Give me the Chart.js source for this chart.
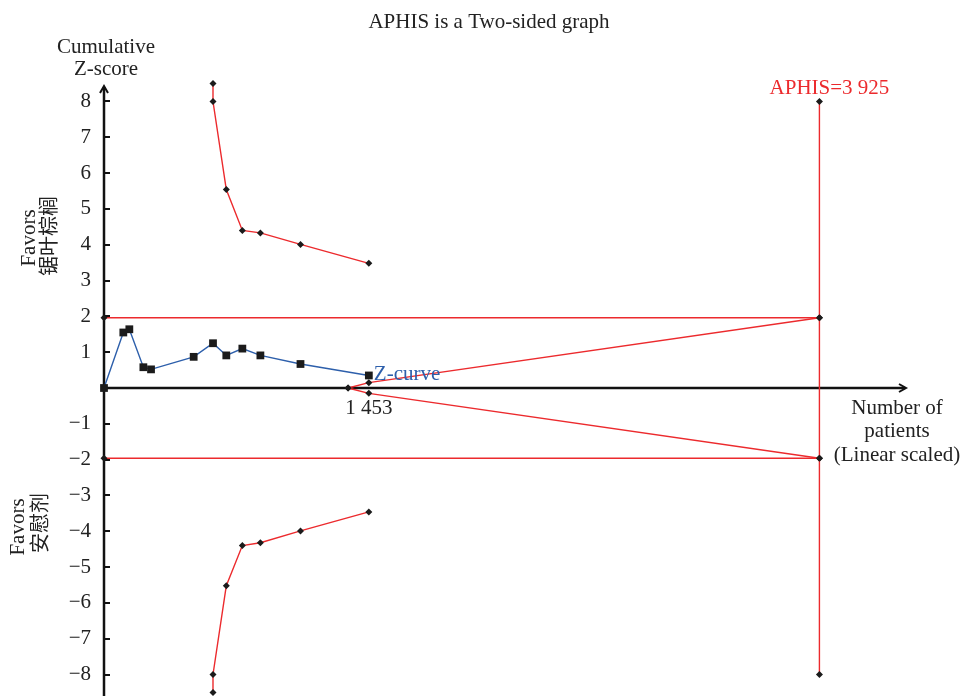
<!DOCTYPE html>
<html>
<head>
<meta charset="utf-8">
<script src="https://cdn.jsdelivr.net/npm/chart.js@4.4.1/dist/chart.umd.min.js"></script>
<style>
  html, body { margin: 0; padding: 0; background: #ffffff; }
  #wrap { width: 965px; height: 696px; position: relative; }
</style>
</head>
<body>
<div id="wrap"><canvas id="c"></canvas></div>
<script>
// ---- Data ----
const zCurvePatients = [0, 106, 139, 216, 258, 492, 598, 671, 759, 858, 1078, 1453];
const zCurveScores   = [0, 1.55, 1.64, 0.58, 0.52, 0.87, 1.25, 0.91, 1.10, 0.91, 0.67, 0.35];

const boundaryPatients = [598, 598, 671, 759, 858, 1078, 1453];
const upperBoundary    = [8.5, 8.0, 5.54, 4.40, 4.33, 4.01, 3.48];
const lowerBoundary    = [-8.5, -8.0, -5.52, -4.40, -4.32, -3.99, -3.46];

const futilityPatients = [1339, 1453, 3925];
const futilityUpper    = [0, 0.15, 1.96];
const futilityLower    = [0, -0.15, -1.96];

const conventionalPatients = [0, 3925];
const conventionalUpper    = [1.96, 1.96];
const conventionalLower    = [-1.96, -1.96];

const aphisPatients = [3925, 3925];
const aphisZ        = [8, -8];

const yTickValues = [-8, -7, -6, -5, -4, -3, -2, -1, 1, 2, 3, 4, 5, 6, 7, 8];
const xTickValues = [1453];
const xTickLabels = ['1 453'];

const titleText = 'APHIS is a Two-sided graph';
const yTitle = ['Cumulative', 'Z-score'];
const xTitle = ['Number of', 'patients', '(Linear scaled)'];
const aphisLabel = 'APHIS=3 925';
const zCurveLabel = 'Z-curve';
const favorUpper = ['Favors', '锯叶棕榈'];
const favorLower = ['Favors', '安慰剂'];

// ---- Styles ----
const RED = '#ec2a2d';
const BLUE = '#2d5fab';
const MARK = '#1b1b1b';
const SERIF = '"Liberation Serif", "DejaVu Serif", serif';
const CJK = '"Noto Sans CJK SC", "Noto Sans CJK JP", sans-serif';

const zip = (xs, ys) => xs.map((x, i) => ({ x: x, y: ys[i] }));

function redSet(xs, ys) {
  return {
    data: zip(xs, ys),
    showLine: true,
    borderColor: RED,
    borderWidth: 1.4,
    pointStyle: 'rectRot',
    pointRadius: 3.5,
    pointBackgroundColor: MARK,
    pointBorderColor: MARK,
    pointBorderWidth: 0,
    clip: false,
    tension: 0
  };
}

const overlay = {
  id: 'overlay',
  beforeDatasetsDraw(chart) {
    const ctx = chart.ctx;
    const xs = chart.scales.x, ys = chart.scales.y;
    const x0 = xs.getPixelForValue(0);
    const y0 = ys.getPixelForValue(0);
    ctx.save();
    ctx.strokeStyle = '#111';
    ctx.fillStyle = '#111';
    ctx.lineWidth = 2.5;
    // y axis
    ctx.beginPath();
    ctx.moveTo(x0, 696);
    ctx.lineTo(x0, 87);
    ctx.stroke();
    ctx.lineWidth = 2;
    ctx.beginPath();
    ctx.moveTo(x0 - 4, 93);
    ctx.lineTo(x0, 86);
    ctx.lineTo(x0 + 4, 93);
    ctx.stroke();
    // x axis
    ctx.lineWidth = 2.5;
    ctx.beginPath();
    ctx.moveTo(x0, y0);
    ctx.lineTo(905, y0);
    ctx.stroke();
    ctx.lineWidth = 2;
    ctx.beginPath();
    ctx.moveTo(899, y0 - 4);
    ctx.lineTo(906, y0);
    ctx.lineTo(899, y0 + 4);
    ctx.stroke();
    // y tick marks (inside)
    ctx.lineWidth = 2;
    yTickValues.forEach(v => {
      const py = Math.round(ys.getPixelForValue(v));
      ctx.beginPath();
      ctx.moveTo(x0, py);
      ctx.lineTo(x0 + 6, py);
      ctx.stroke();
    });
    ctx.restore();
  },
  afterDraw(chart) {
    const ctx = chart.ctx;
    const xs = chart.scales.x, ys = chart.scales.y;
    const y0 = ys.getPixelForValue(0);
    ctx.save();
    ctx.font = '21px ' + SERIF;
    ctx.fillStyle = '#222';
    ctx.textAlign = 'center';
    ctx.textBaseline = 'middle';
    ctx.fillText(titleText, 489, 22);
    ctx.fillText(yTitle[0], 106, 47);
    ctx.fillText(yTitle[1], 106, 69);
    xTitle.forEach((t, i) => ctx.fillText(t, 897, 408 + i * 23.5));
    xTickValues.forEach((v, i) => ctx.fillText(xTickLabels[i], xs.getPixelForValue(v), y0 + 20));
    ctx.fillStyle = RED;
    ctx.fillText(aphisLabel, xs.getPixelForValue(3925) + 10, 88);
    ctx.fillStyle = BLUE;
    ctx.textAlign = 'left';
    const last = zCurvePatients.length - 1;
    ctx.fillText(zCurveLabel, xs.getPixelForValue(zCurvePatients[last]) + 5, ys.getPixelForValue(zCurveScores[last]) - 1);

    // rotated favour labels
    ctx.fillStyle = '#222';
    ctx.textAlign = 'center';
    function rot(text, font, cx, cy) {
      ctx.save();
      ctx.translate(cx, cy);
      ctx.rotate(-Math.PI / 2);
      ctx.font = font;
      ctx.fillText(text, 0, 0);
      ctx.restore();
    }
    rot(favorUpper[0], '21px ' + SERIF, 29, 238);
    rot(favorUpper[1], '20px ' + CJK, 48, 236);
    rot(favorLower[0], '21px ' + SERIF, 18, 527);
    rot(favorLower[1], '20px ' + CJK, 39, 523);
    ctx.restore();
  }
};

new Chart(document.getElementById('c'), {
  type: 'scatter',
  data: {
    datasets: [
      redSet(conventionalPatients, conventionalUpper),
      redSet(conventionalPatients, conventionalLower),
      redSet(aphisPatients, aphisZ),
      redSet(futilityPatients, futilityUpper),
      redSet(futilityPatients, futilityLower),
      redSet(boundaryPatients, upperBoundary),
      redSet(boundaryPatients, lowerBoundary),
      {
        data: zip(zCurvePatients, zCurveScores),
        showLine: true,
        borderColor: BLUE,
        borderWidth: 1.4,
        pointStyle: 'rect',
        pointRadius: 5.5,
        pointBackgroundColor: MARK,
        pointBorderColor: MARK,
        pointBorderWidth: 0,
        clip: false,
        tension: 0
      }
    ]
  },
  options: {
    responsive: true,
    maintainAspectRatio: false,
    animation: false,
    events: [],
    layout: { autoPadding: false, padding: { left: 0, right: 59, top: 80, bottom: 0 } },
    plugins: { legend: { display: false }, tooltip: { enabled: false }, title: { display: false } },
    scales: {
      x: {
        type: 'linear',
        display: false,
        min: 0,
        max: 4400
      },
      y: {
        type: 'linear',
        min: -8.6,
        max: 8.6,
        grid: { display: false, drawTicks: false },
        border: { display: false },
        afterFit(scale) { scale.width = 104; scale.paddingTop = 0; scale.paddingBottom = 0; },
        afterBuildTicks(scale) { scale.ticks = yTickValues.map(v => ({ value: v })); },
        ticks: {
          padding: 13,
          color: '#222',
          font: { family: SERIF, size: 21 },
          callback: (v) => (v < 0 ? '\u2212' + Math.abs(v) : String(v))
        }
      }
    }
  },
  plugins: [overlay]
});
</script>
</body>
</html>
